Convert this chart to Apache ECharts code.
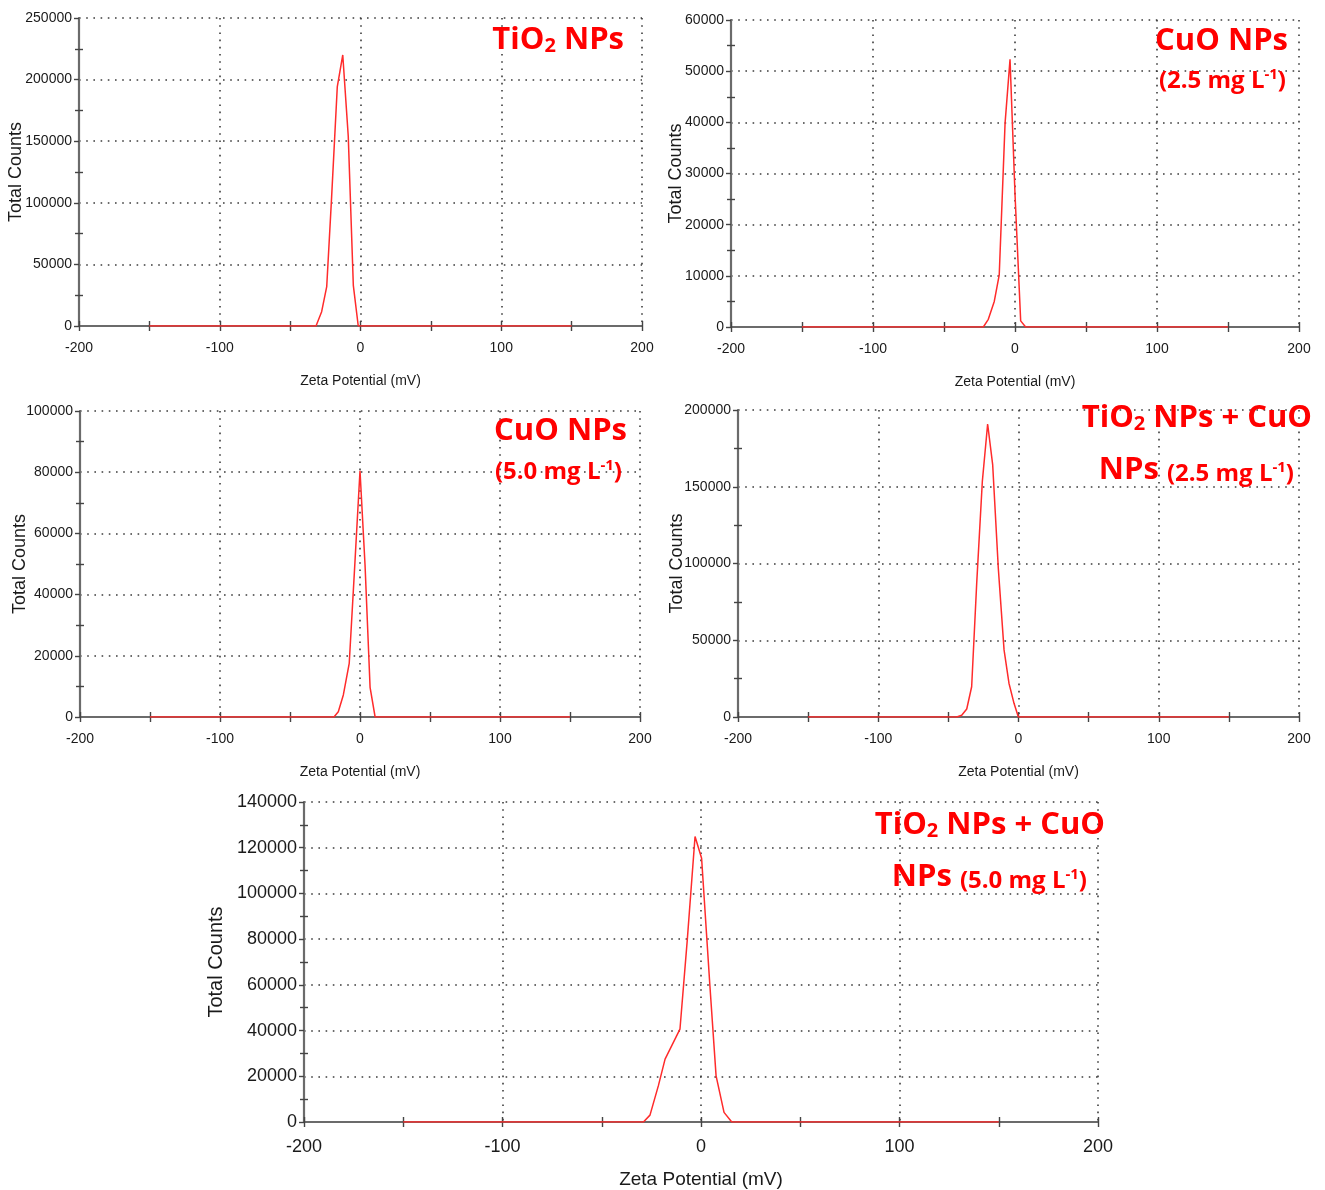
<!DOCTYPE html>
<html>
<head>
<meta charset="utf-8">
<script src="https://cdn.jsdelivr.net/npm/echarts@6/dist/echarts.min.js"></script>
<style>
html, body { margin: 0; background: #fff; }
#main { width: 1325px; height: 1190px; }
</style>
</head>
<body>
<div id="main"></div>
<script>
// zeta potential (mV) / total counts, flat baseline runs -150..150
const tio2Zeta = [-150, -31.6, -27.6, -24, -20.5, -16.5, -12.6, -8.7, -5.1, -1.6, 150];
const tio2Counts = [0, 0, 11600, 31900, 105000, 194000, 220000, 154000, 33000, 0, 0];

const cuo25Zeta = [-150, -22.3, -18.8, -14.6, -11.1, -7, -3.5, 0, 4, 7.5, 150];
const cuo25Counts = [0, 0, 1500, 5000, 10200, 39800, 52300, 26000, 1200, 0, 0];

const cuo50Zeta = [-150, -18.6, -15.5, -11.9, -7.7, -3.6, 0, 3.6, 7.2, 10.8, 150];
const cuo50Counts = [0, 0, 1700, 7200, 17500, 50700, 80500, 49700, 9700, 0, 0];

const mix25Zeta = [-150, -44, -40.5, -36.9, -33.4, -29.8, -25.8, -22, -18.4, -14.4, -10.3, -6.8, -3.2, -0.1, 150];
const mix25Counts = [0, 0, 1100, 5200, 19700, 87100, 153300, 190900, 164200, 96900, 43700, 22000, 8900, 0, 0];

const mix50Zeta = [-150, -29, -25.7, -21.5, -18.1, -10.6, -6.9, -3, 0.3, 4.5, 7.6, 11.6, 15.5, 150];
const mix50Counts = [0, 0, 3000, 15800, 27500, 40600, 79800, 124900, 115400, 59400, 20200, 4200, 0, 0];

const xMin = -200, xMax = 200, xStep = 100;
const yMaxes = [250000, 60000, 100000, 200000, 140000];
const ySteps = [50000, 10000, 20000, 50000, 20000];

const xName = 'Zeta Potential (mV)';
const yName = 'Total Counts';

const chart = echarts.init(document.getElementById('main'));

// [left, top, right, bottom] of each plot area
const panels = [
    { rect: [79, 18, 642, 326], zeta: tio2Zeta, counts: tio2Counts, big: false, yGap: 54, xGap: 48 },
    { rect: [731, 20, 1299, 327], zeta: cuo25Zeta, counts: cuo25Counts, big: false, yGap: 46, xGap: 48 },
    { rect: [80, 411, 640, 717], zeta: cuo50Zeta, counts: cuo50Counts, big: false, yGap: 51, xGap: 48 },
    { rect: [738, 410, 1299, 717], zeta: mix25Zeta, counts: mix25Counts, big: false, yGap: 52, xGap: 48 },
    { rect: [304, 802, 1098, 1123], zeta: mix50Zeta, counts: mix50Counts, big: true, yGap: 78, xGap: 48 }
];

const axisGray = '#6b6b6b';
const tickStyle = { color: '#444', width: 1.4 };
const dotted = { color: '#3c3c3c', width: 1.6, type: [1.6, 5.6] };
const arial = "'Liberation Sans', Arial, sans-serif";

const grid = [], xAxis = [], yAxis = [], series = [];

panels.forEach(function (p, i) {
    const r = p.rect;
    grid.push({ left: r[0], top: r[1], width: r[2] - r[0], height: r[3] - r[1] });
    const labelSize = p.big ? 18 : 14;
    const xNameSize = p.big ? 19 : 14;
    const yNameSize = p.big ? 20 : 18;

    // main x axis
    xAxis.push({
        gridIndex: i, type: 'value', position: 'bottom',
        min: xMin, max: xMax, interval: xStep,
        name: xName, nameLocation: 'middle', nameGap: p.xGap,
        nameTextStyle: { color: '#1a1a1a', fontFamily: arial, fontSize: xNameSize },
        axisLine: { onZero: false, lineStyle: { color: axisGray, width: 2.2 } },
        axisTick: { length: 5, lineStyle: tickStyle },
        minorTick: { show: true, splitNumber: 2, length: 5, lineStyle: tickStyle },
        axisLabel: { color: '#1a1a1a', fontFamily: arial, fontSize: labelSize, margin: p.big ? 16 : 15 },
        splitLine: { show: true, lineStyle: dotted }
    });
    // ghost x axis, only for the inner half of the crossing ticks
    xAxis.push({
        gridIndex: i, type: 'value', position: 'bottom',
        min: xMin, max: xMax, interval: xStep,
        axisLine: { show: false, onZero: false },
        axisTick: { inside: true, length: 5, lineStyle: tickStyle },
        minorTick: { show: true, splitNumber: 2, length: 5, lineStyle: tickStyle },
        axisLabel: { show: false },
        splitLine: { show: false }
    });

    yAxis.push({
        gridIndex: i, type: 'value', position: 'left',
        min: 0, max: yMaxes[i], interval: ySteps[i],
        name: yName, nameLocation: 'middle', nameGap: p.yGap, nameMoveOverlap: false,
        nameTextStyle: { color: '#1a1a1a', fontFamily: arial, fontSize: yNameSize },
        axisLine: { show: true, onZero: false, lineStyle: { color: axisGray, width: 2.2 } },
        axisTick: { show: true, length: 5, lineStyle: tickStyle },
        minorTick: { show: true, splitNumber: 2, length: 4, lineStyle: tickStyle },
        axisLabel: {
            color: '#1a1a1a', fontFamily: arial, fontSize: labelSize, margin: 7,
            formatter: function (v) { return String(v); }
        },
        splitLine: { show: true, lineStyle: dotted }
    });
    yAxis.push({
        gridIndex: i, type: 'value', position: 'left',
        min: 0, max: yMaxes[i], interval: ySteps[i],
        axisLine: { show: false, onZero: false },
        axisTick: { show: false, inside: true },
        minorTick: { show: true, splitNumber: 2, length: 4, lineStyle: tickStyle },
        axisLabel: { show: false },
        splitLine: { show: false }
    });

    series.push({
        type: 'line',
        xAxisIndex: i * 2, yAxisIndex: i * 2,
        data: p.zeta.map(function (z, k) { return [z, p.counts[k]]; }),
        showSymbol: false,
        lineStyle: { color: '#ff2b2b', width: 1.5 },
        z: 5
    });
});

// red panel captions, rich text so the sub/superscripts sit right
const titleRich = {
    b: { fontFamily: 'Open Sans', fontWeight: 'bold', fontSize: 31, fill: '#ff0000', verticalAlign: 'bottom' },
    sub: { fontFamily: 'Open Sans', fontWeight: 'bold', fontSize: 20, fill: '#ff0000', verticalAlign: 'bottom' },
    m: { fontFamily: 'Open Sans', fontWeight: 'bold', fontSize: 24, fill: '#ff0000', verticalAlign: 'bottom' },
    sup: { fontFamily: 'Open Sans', fontWeight: 'bold', fontSize: 15, fill: '#ff0000', verticalAlign: 'bottom', padding: [0, 0, 11, 0] }
};

function caption(right, baseline, text) {
    return {
        type: 'text', x: right, y: baseline + 6, z: 10,
        style: { text: text, align: 'right', verticalAlign: 'bottom', rich: titleRich }
    };
}

const graphic = [
    caption(624, 50, '{b|TiO}{sub|2}{b| NPs}'),
    caption(1288, 51, '{b|CuO NPs}'),
    caption(1286, 87, '{m|(2.5 mg L}{sup|-1}{m|)}'),
    caption(627, 441, '{b|CuO NPs}'),
    caption(622, 478, '{m|(5.0 mg L}{sup|-1}{m|)}'),
    caption(1312, 428, '{b|TiO}{sub|2}{b| NPs + CuO}'),
    caption(1294, 480, '{b|NPs }{m|(2.5 mg L}{sup|-1}{m|)}'),
    caption(1105, 835, '{b|TiO}{sub|2}{b| NPs + CuO}'),
    caption(1087, 887, '{b|NPs }{m|(5.0 mg L}{sup|-1}{m|)}')
];

chart.setOption({
    backgroundColor: '#fff',
    animation: false,
    grid: grid,
    xAxis: xAxis,
    yAxis: yAxis,
    series: series,
    graphic: graphic
});
</script>
</body>
</html>
